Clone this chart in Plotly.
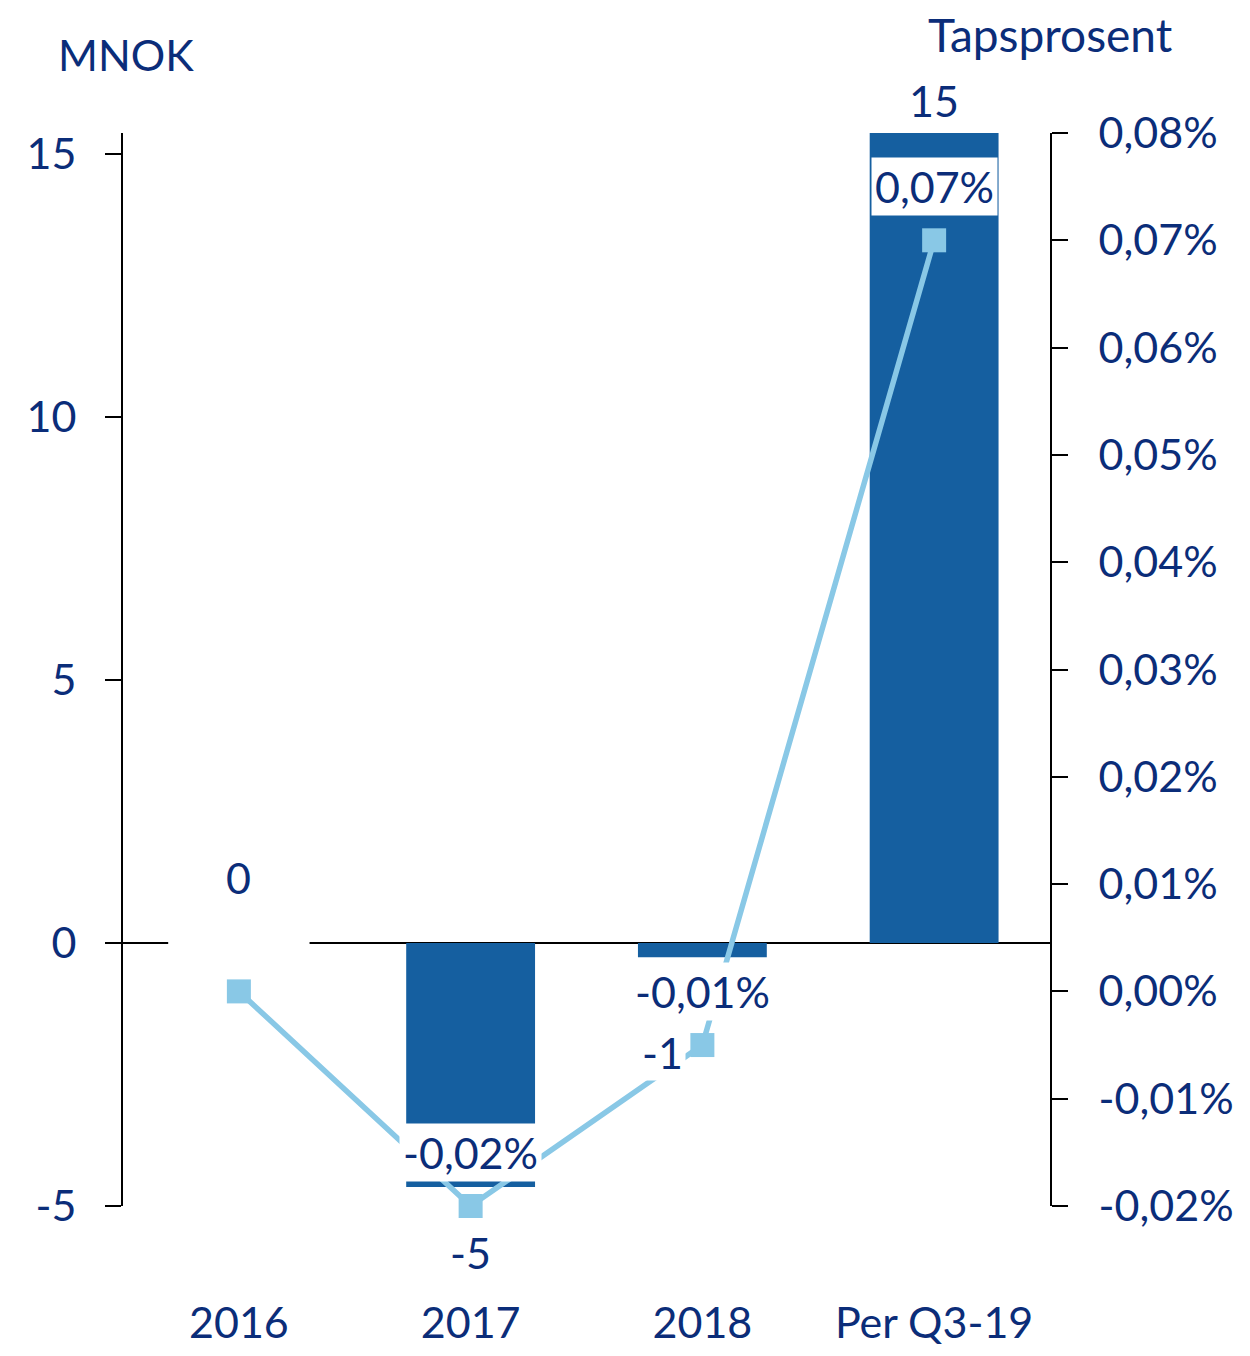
import plotly.graph_objects as go

categories = ["2016", "2017", "2018", "Per Q3-19"]
mnok_values = [0.0, -4.64, -0.27, 15.4]
mnok_labels = ["0", "-5", "-1", "15"]
loss_pct = [0.000, -0.020, -0.005, 0.070]
loss_pct_labels = ["", "-0,02%", "-0,01%", "0,07%"]

left_ticks = [-5, 0, 5, 10, 15]
left_tick_text = ["-5", "0", "5", "10", "15"]
right_ticks = [-0.02, -0.01, 0.0, 0.01, 0.02, 0.03, 0.04, 0.05, 0.06, 0.07, 0.08]
right_tick_text = ["-0,02%", "-0,01%", "0,00%", "0,01%", "0,02%", "0,03%",
                   "0,04%", "0,05%", "0,06%", "0,07%", "0,08%"]

NAVY = "#0B2D79"
BAR = "#155FA0"
LINE = "#89C8E6"
FONT = "Lato"
FS = 43

xpos = list(range(len(categories)))

fig = go.Figure()
fig.add_trace(go.Bar(x=xpos, y=mnok_values, marker_color=BAR, width=0.556,
                     marker_line_width=0, yaxis="y", showlegend=False))
fig.add_trace(go.Scatter(x=xpos, y=loss_pct, mode="lines+markers", yaxis="y2",
                         line=dict(color=LINE, width=5.5), cliponaxis=False,
                         marker=dict(symbol="square", size=24, color=LINE),
                         showlegend=False))

annotations = []
# bar value labels
bar_shifts = [(0, 66), (0, -65), (-40, -95), (0, 33)]
for xp, v, lab, (xs, ys) in zip(xpos, mnok_values, mnok_labels, bar_shifts):
    annotations.append(dict(x=xp, y=v, xref="x", yref="y", text=lab, showarrow=False,
                            xshift=xs, yshift=ys, font=dict(size=FS, color=NAVY, family=FONT),
                            bgcolor="white" if lab == "-1" else "rgba(0,0,0,0)", borderpad=2))
# percentage labels
for xp, v, lab in zip(xpos, loss_pct, loss_pct_labels):
    if not lab:
        continue
    annotations.append(dict(x=xp, y=v, xref="x", yref="y2", text=lab, showarrow=False,
                            yshift=54, font=dict(size=FS, color=NAVY, family=FONT),
                            bgcolor="white", borderpad=3))
annotations.append(dict(x=-0.072, y=1.073, xref="paper", yref="paper", text="MNOK",
                        showarrow=False, xanchor="left", yanchor="middle",
                        font=dict(size=FS, color=NAVY, family=FONT)))
annotations.append(dict(x=1.0, y=1.092, xref="paper", yref="paper", text="Tapsprosent",
                        showarrow=False, xanchor="center", yanchor="middle",
                        font=dict(size=46, color=NAVY, family=FONT)))

fig.update_layout(
    width=1234, height=1340, autosize=False,
    margin=dict(l=115, r=192, t=125, b=142, autoexpand=False),
    paper_bgcolor="white", plot_bgcolor="white",
    font=dict(family=FONT, size=FS, color=NAVY),
    xaxis=dict(range=[-0.5, 3.5], tickvals=xpos, ticktext=categories, automargin=False,
               showline=False, showgrid=False, zeroline=False, ticks="",
               tickfont=dict(size=FS, color=NAVY, family=FONT), ticklabelstandoff=88),
    yaxis=dict(range=[-5, 15.4], tickvals=left_ticks, ticktext=left_tick_text,
               showgrid=False, automargin=False,
               showline=True, linecolor="black", linewidth=2,
               ticks="outside", ticklen=16, tickwidth=2, tickcolor="black",
               zeroline=True, zerolinecolor="black", zerolinewidth=2,
               tickfont=dict(size=FS, color=NAVY, family=FONT), ticklabelstandoff=20),
    yaxis2=dict(range=[-0.02, 0.08], overlaying="y", side="right", automargin=False,
                tickvals=right_ticks, ticktext=right_tick_text, showgrid=False,
                showline=True, linecolor="black", linewidth=2,
                ticks="outside", ticklen=16, tickwidth=2, tickcolor="black",
                zeroline=False,
                tickfont=dict(size=FS, color=NAVY, family=FONT), ticklabelstandoff=22),
    annotations=annotations,
    shapes=[dict(type="rect", xref="x", yref="y", x0=-0.305, x1=0.305, y0=-0.5, y1=0.5,
                 fillcolor="white", line=dict(width=0), layer="above")],
)

fig.write_html("out.html")
